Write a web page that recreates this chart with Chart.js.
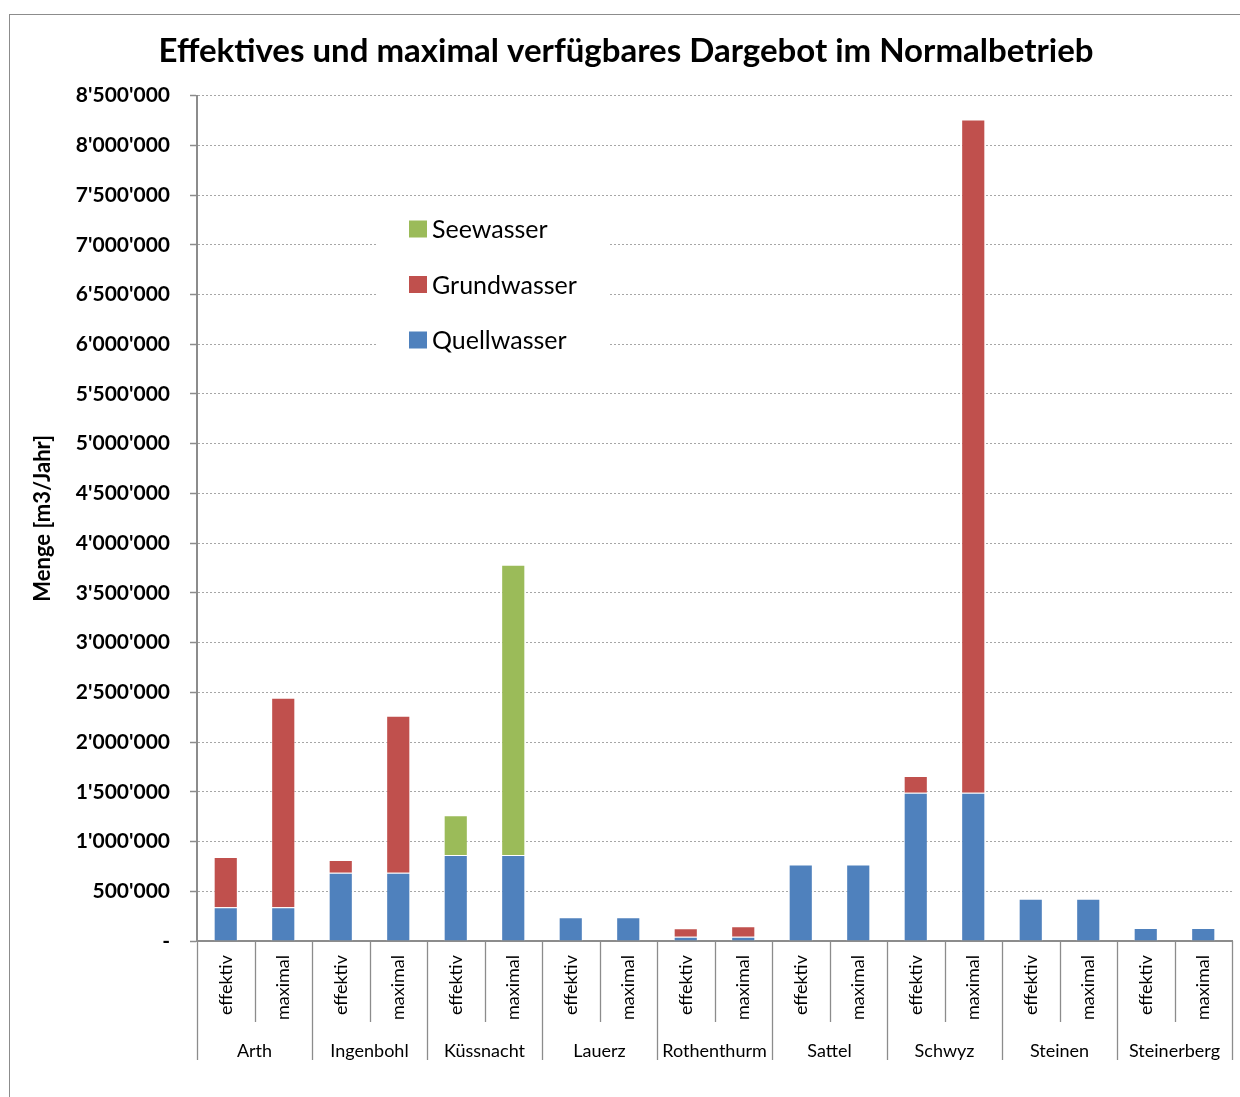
<!DOCTYPE html>
<html><head><meta charset="utf-8">
<script src="https://cdn.jsdelivr.net/npm/chart.js@4/dist/chart.umd.min.js"></script>
<style>
html,body{margin:0;padding:0;background:#fff;overflow:hidden;}
#frame{position:absolute;left:9px;top:14px;width:1300px;height:1200px;border:1.5px solid #8c8c8c;box-sizing:border-box;}
#wrap{position:absolute;left:0;top:0;width:1240px;height:1097px;}
</style></head>
<body>
<div id="frame"></div>
<div id="wrap"><canvas id="c" width="1240" height="1097"></canvas></div>
<script>
const towns = ['Arth','Ingenbohl','Küssnacht','Lauerz','Rothenthurm','Sattel','Schwyz','Steinen','Steinerberg'];
const kinds = ['effektiv','maximal'];
const categories = ['effektiv','maximal','effektiv','maximal','effektiv','maximal','effektiv','maximal','effektiv','maximal','effektiv','maximal','effektiv','maximal','effektiv','maximal','effektiv','maximal'];
const quellwasser = [340000,340000,685000,685000,865000,865000,240000,240000,43000,43000,770000,770000,1490000,1490000,425000,425000,130000,130000];
const grundwasser = [505000,2105000,130000,1580000,0,0,0,0,85000,105000,0,0,170000,6770000,0,0,0,0];
const seewasser   = [0,0,0,0,400000,2918000,0,0,0,0,0,0,0,0,0,0,0,0];
const yMax = 8500000, yStep = 500000;

const FONT = 'Lato, "Open Sans", sans-serif';

function fmt(v){ if(v===0) return '-'; return String(v).replace(/\B(?=(\d{3})+(?!\d))/g, "'"); }

const separators = {
  id:'separators',
  afterDraw(chart){
    const x = chart.scales.x; const ctx = chart.ctx;
    const n = categories.length; const w = (x.right - x.left)/n;
    ctx.save(); ctx.strokeStyle='#8c8c8c'; ctx.lineWidth=1.3;
    for(let i=0;i<=n;i++){
      const px = Math.round(x.left + i*w)+0.5;
      const y0 = x.top; const y1 = (i%2===0) ? 1060 : 1022;
      ctx.beginPath(); ctx.moveTo(px,y0); ctx.lineTo(px,y1); ctx.stroke();
    }
    ctx.restore();
  }
};

const legendBox = {
  id:'legendBox',
  afterDraw(chart){
    const ctx = chart.ctx;
    const ds = chart.data.datasets.slice().reverse();
    ctx.save();
    ctx.fillStyle='#fff'; ctx.fillRect(378,203,230,160);
    ctx.font = '25px '+FONT; ctx.textBaseline='middle'; ctx.textAlign='left';
    ds.forEach((d,i)=>{
      const cy = 229 + i*55.5;
      ctx.fillStyle = d.backgroundColor; ctx.fillRect(409, cy-8.5, 18, 17);
      ctx.fillStyle = '#000'; ctx.fillText(d.label, 432, cy+1);
    });
    ctx.restore();
  }
};

const barCommon = {barPercentage:0.42, categoryPercentage:1, borderWidth:1, borderColor:'rgba(255,255,255,0.5)', xAxisID:'x', yAxisID:'y'};

new Chart(document.getElementById('c'), {
  type:'bar',
  data:{
    labels: categories,
    datasets:[
      Object.assign({label:'Quellwasser', data:quellwasser, backgroundColor:'#4F81BD'}, barCommon),
      Object.assign({label:'Grundwasser', data:grundwasser, backgroundColor:'#C0504D'}, barCommon),
      Object.assign({label:'Seewasser', data:seewasser, backgroundColor:'#9BBB59'}, barCommon)
    ]
  },
  options:{
    responsive:false, animation:false,
    layout:{padding:{left:20,right:8,top:0,bottom:0}},
    plugins:{
      legend:{display:false}, tooltip:{enabled:false},
      title:{display:true, text:'Effektives und maximal verfügbares Dargebot im Normalbetrieb', color:'#000',
        font:{family:FONT, size:33, weight:'bold'}, padding:{top:32,bottom:24}}
    },
    scales:{
      x:{stacked:true, position:'bottom', weight:0,
        grid:{display:false}, border:{display:true, color:'#8c8c8c', width:2},
        ticks:{minRotation:90, maxRotation:90, autoSkip:false, padding:6, color:'#000', font:{family:FONT, size:18}},
        afterFit(s){ s.height = 91; }
      },
      x2:{type:'category', labels:towns, position:'bottom', weight:1, offset:true,
        grid:{display:false}, border:{display:false},
        ticks:{padding:0, color:'#000', font:{family:FONT, size:18}},
        afterFit(s){ s.height = 65; }
      },
      y:{stacked:true, min:0, max:yMax,
        ticks:{stepSize:yStep, padding:20, color:'#000', font:{family:FONT, size:21, weight:'bold'}, callback:(v)=>fmt(v)},
        grid:{color:'#a6a6a6', lineWidth:1, tickLength:7, tickColor:'#8c8c8c', tickBorderDash:[], tickWidth:1.5},
        border:{display:true, color:'#8c8c8c', width:2, dash:[2,2]},
        title:{display:true, text:'Menge [m3/Jahr]', color:'#000', font:{family:FONT, size:22, weight:'bold'}, padding:{top:10,bottom:0}},
        afterFit(s){ s.width = 177; }
      }
    }
  },
  plugins:[separators, legendBox]
});
</script>
</body></html>
